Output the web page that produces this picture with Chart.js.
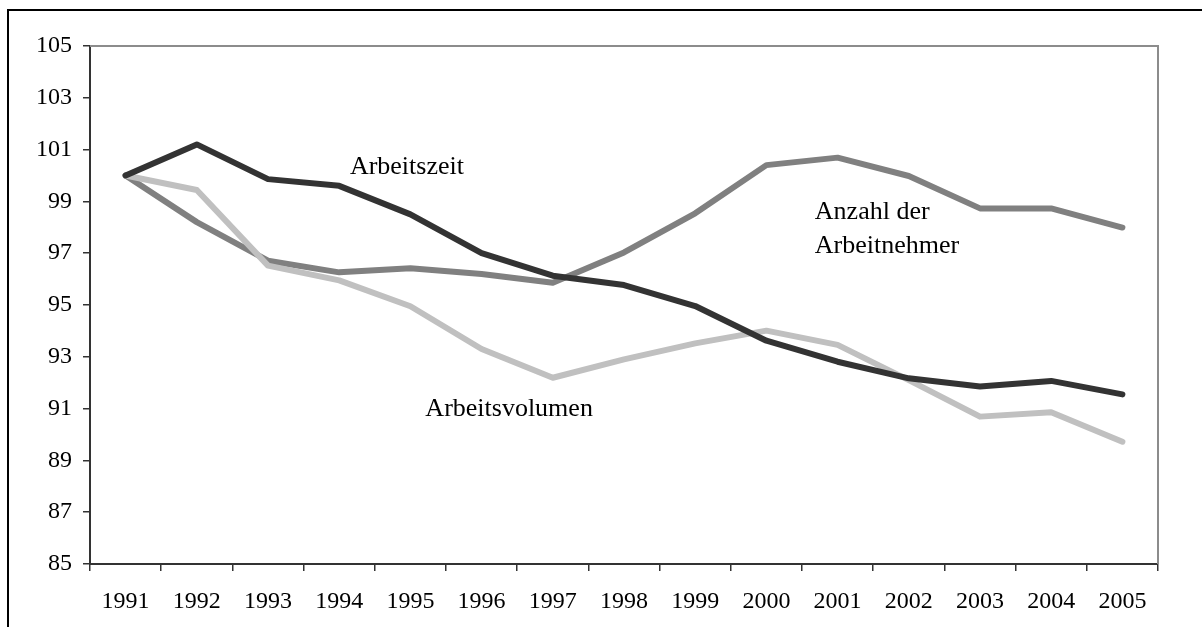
<!DOCTYPE html>
<html>
<head>
<meta charset="utf-8">
<script src="https://cdn.jsdelivr.net/npm/chart.js@4"></script>
<style>
html,body{margin:0;padding:0;background:#fff;}
#c{display:block;}
</style>
</head>
<body>
<canvas id="c" width="1202" height="627"></canvas>
<script>
const years = ['1991','1992','1993','1994','1995','1996','1997','1998','1999','2000','2001','2002','2003','2004','2005'];
const arbeitszeit = [100.0, 101.2, 99.86, 99.6, 98.5, 97.0, 96.13, 95.77, 94.96, 93.62, 92.81, 92.17, 91.85, 92.07, 91.55];
const arbeitsvolumen = [100.0, 99.44, 96.52, 95.95, 94.95, 93.3, 92.19, 92.9, 93.52, 94.01, 93.46, 92.1, 90.69, 90.86, 89.72];
const arbeitnehmer = [100.0, 98.2, 96.71, 96.26, 96.42, 96.2, 95.86, 97.03, 98.54, 100.4, 100.69, 99.98, 98.73, 98.73, 97.99];
const yMin = 85, yMax = 105, yStep = 2;
const annotations = [
  {text: 'Arbeitszeit', idx: 3.15, val: 100.06},
  {text: 'Arbeitsvolumen', idx: 4.21, val: 90.73},
  {text: 'Anzahl der', idx: 9.68, val: 98.32},
  {text: 'Arbeitnehmer', idx: 9.68, val: 97.0}
];

const FONT = "'Liberation Serif', 'Times New Roman', serif";

const framePlugin = {
  id: 'frame',
  beforeDraw(chart) {
    const ctx = chart.ctx;
    ctx.save();
    ctx.fillStyle = '#fff';
    ctx.fillRect(0, 0, chart.width, chart.height);
    ctx.strokeStyle = '#000';
    ctx.lineWidth = 2;
    ctx.strokeRect(8, 10, 1400, 1000);
    ctx.restore();
  },
  beforeDatasetsDraw(chart) {
    const ctx = chart.ctx, a = chart.chartArea;
    ctx.save();
    ctx.strokeStyle = '#8c8c8c';
    ctx.lineWidth = 2;
    ctx.beginPath();
    ctx.moveTo(a.left, a.top);
    ctx.lineTo(a.right, a.top);
    ctx.lineTo(a.right, a.bottom);
    ctx.stroke();
    ctx.restore();
  },
  afterDraw(chart) {
    const ctx = chart.ctx;
    const xs = chart.scales.x, ys = chart.scales.y;
    ctx.save();
    ctx.fillStyle = '#000';
    ctx.font = '26px ' + FONT;
    ctx.textAlign = 'left';
    ctx.textBaseline = 'alphabetic';
    annotations.forEach(an => {
      ctx.fillText(an.text, xs.getPixelForValue(an.idx), ys.getPixelForValue(an.val));
    });
    ctx.restore();
  }
};

new Chart(document.getElementById('c'), {
  type: 'line',
  data: {
    labels: years,
    datasets: [
      {label: 'Arbeitszeit', data: arbeitszeit, borderColor: '#333333'},
      {label: 'Arbeitsvolumen', data: arbeitsvolumen, borderColor: '#c0c0c0'},
      {label: 'Anzahl der Arbeitnehmer', data: arbeitnehmer, borderColor: '#808080'}
    ]
  },
  options: {
    responsive: false,
    animation: false,
    devicePixelRatio: 1,
    layout: {padding: {left: 0, top: 46, right: 44, bottom: 0}},
    elements: {
      line: {borderWidth: 6, tension: 0, borderCapStyle: 'round', borderJoinStyle: 'round', fill: false},
      point: {radius: 0, hoverRadius: 0}
    },
    plugins: {legend: {display: false}, tooltip: {enabled: false}},
    scales: {
      x: {
        type: 'category',
        offset: true,
        afterFit(s) { s.height = 63; },
        grid: {offset: true, drawOnChartArea: false, drawTicks: true, tickLength: 7, color: '#333', lineWidth: 1.5},
        border: {color: '#333', width: 2},
        ticks: {color: '#000', font: {family: FONT, size: 24}, padding: 16, maxRotation: 0, autoSkip: false}
      },
      y: {
        min: yMin, max: yMax,
        afterFit(s) { s.width = 90; },
        grid: {drawOnChartArea: false, drawTicks: true, tickLength: 7, color: '#333', lineWidth: 1.5},
        border: {color: '#333', width: 2},
        ticks: {stepSize: yStep, color: '#000', font: {family: FONT, size: 24}, padding: 11}
      }
    }
  },
  plugins: [framePlugin]
});
</script>
</body>
</html>
